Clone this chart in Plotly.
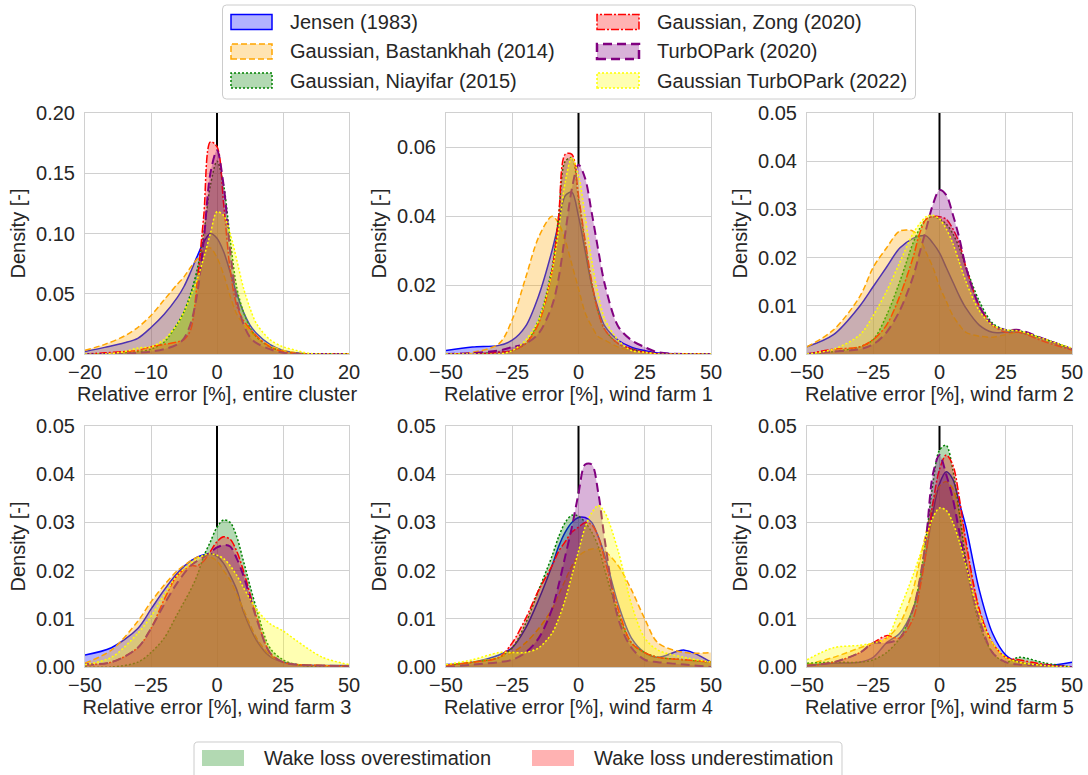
import plotly.graph_objects as go

# ---------------- data ----------------
series_names = ["Jensen (1983)", "Gaussian, Bastankhah (2014)", "Gaussian, Niayifar (2015)",
                "Gaussian, Zong (2020)", "TurbOPark (2020)", "Gaussian TurbOPark (2022)"]

x_cluster = [-20, -17, -14, -12, -10, -8, -6, -5, -4, -3, -2, -1, 0, 1, 2, 3, 4, 5, 6, 8, 10, 12, 14, 20]
x_farm = [-50, -40, -30, -25, -20, -15, -10, -7.5, -5, -2.5, 0, 2.5, 5, 7.5, 10, 15, 20, 25, 30, 40, 50]

# entire cluster
jensen_p1 = [0.002, 0.0055, 0.0093, 0.013, 0.022, 0.033, 0.047, 0.056, 0.068, 0.081, 0.093, 0.100, 0.096, 0.085, 0.068, 0.050, 0.035, 0.024, 0.017, 0.008, 0.003, 0.001, 0.0, 0.0]
bast_p1 = [0.003, 0.008, 0.015, 0.022, 0.032, 0.045, 0.058, 0.064, 0.072, 0.079, 0.086, 0.088, 0.080, 0.066, 0.048, 0.033, 0.025, 0.019, 0.014, 0.007, 0.003, 0.001, 0.0, 0.0]
niay_p1 = [0.0, 0.0, 0.001, 0.002, 0.004, 0.010, 0.025, 0.035, 0.050, 0.070, 0.100, 0.140, 0.160, 0.140, 0.095, 0.055, 0.035, 0.022, 0.014, 0.006, 0.002, 0.0005, 0.0, 0.0]
zong_p1 = [0.0, 0.001, 0.002, 0.003, 0.006, 0.008, 0.010, 0.012, 0.020, 0.060, 0.115, 0.176, 0.172, 0.125, 0.070, 0.040, 0.028, 0.021, 0.015, 0.006, 0.002, 0.0005, 0.0, 0.0]
turbo_p1 = [0.0, 0.0, 0.0005, 0.001, 0.002, 0.004, 0.008, 0.013, 0.025, 0.050, 0.095, 0.150, 0.169, 0.140, 0.085, 0.045, 0.025, 0.014, 0.009, 0.004, 0.001, 0.0, 0.0, 0.0]
gturbo_p1 = [0.0, 0.0, 0.002, 0.005, 0.006, 0.012, 0.025, 0.035, 0.048, 0.062, 0.080, 0.100, 0.118, 0.115, 0.100, 0.078, 0.055, 0.038, 0.025, 0.012, 0.006, 0.003, 0.0005, 0.0]

# wind farm 1
jensen_p2 = [0.001, 0.002, 0.0025, 0.004, 0.008, 0.017, 0.030, 0.038, 0.046, 0.047, 0.040, 0.030, 0.020, 0.013, 0.008, 0.004, 0.002, 0.001, 0.0003, 0.0, 0.0]
bast_p2 = [0.0, 0.0005, 0.003, 0.010, 0.022, 0.034, 0.040, 0.038, 0.033, 0.026, 0.019, 0.012, 0.008, 0.005, 0.004, 0.002, 0.001, 0.0005, 0.0, 0.0, 0.0]
niay_p2 = [0.0, 0.0, 0.0005, 0.001, 0.003, 0.010, 0.025, 0.040, 0.056, 0.057, 0.045, 0.032, 0.020, 0.012, 0.007, 0.003, 0.0015, 0.0005, 0.0, 0.0, 0.0]
zong_p2 = [0.0, 0.0, 0.0005, 0.001, 0.003, 0.009, 0.024, 0.040, 0.058, 0.058, 0.046, 0.033, 0.021, 0.012, 0.007, 0.003, 0.0015, 0.0005, 0.0, 0.0, 0.0]
turbo_p2 = [0.0, 0.0003, 0.001, 0.002, 0.003, 0.006, 0.014, 0.022, 0.035, 0.048, 0.055, 0.051, 0.041, 0.030, 0.020, 0.008, 0.004, 0.002, 0.0005, 0.0, 0.0]
gturbo_p2 = [0.0, 0.0, 0.0, 0.001, 0.004, 0.010, 0.024, 0.036, 0.050, 0.057, 0.052, 0.040, 0.027, 0.017, 0.010, 0.004, 0.001, 0.0005, 0.0, 0.0, 0.0]

# wind farm 2
jensen_p3 = [0.0015, 0.004, 0.010, 0.014, 0.018, 0.022, 0.024, 0.0245, 0.0245, 0.023, 0.021, 0.018, 0.015, 0.012, 0.0095, 0.006, 0.0045, 0.0045, 0.0045, 0.003, 0.001]
bast_p3 = [0.0015, 0.005, 0.012, 0.018, 0.022, 0.0255, 0.0255, 0.024, 0.021, 0.018, 0.014, 0.011, 0.008, 0.006, 0.0045, 0.0037, 0.0035, 0.004, 0.0045, 0.003, 0.001]
niay_p3 = [0.0, 0.0005, 0.0015, 0.003, 0.008, 0.015, 0.023, 0.026, 0.028, 0.0285, 0.028, 0.027, 0.025, 0.022, 0.018, 0.011, 0.0064, 0.005, 0.0048, 0.003, 0.001]
zong_p3 = [0.0, 0.001, 0.0015, 0.003, 0.006, 0.012, 0.020, 0.025, 0.028, 0.0285, 0.0285, 0.028, 0.026, 0.023, 0.018, 0.010, 0.006, 0.0045, 0.0045, 0.0025, 0.0008]
turbo_p3 = [0.0, 0.0005, 0.001, 0.002, 0.0045, 0.009, 0.016, 0.021, 0.026, 0.031, 0.034, 0.033, 0.029, 0.024, 0.018, 0.010, 0.006, 0.005, 0.005, 0.003, 0.001]
gturbo_p3 = [0.0, 0.001, 0.004, 0.008, 0.013, 0.019, 0.025, 0.027, 0.0285, 0.0288, 0.028, 0.026, 0.023, 0.019, 0.015, 0.009, 0.006, 0.005, 0.0048, 0.003, 0.0012]

# wind farm 3
jensen_p4 = [0.0025, 0.004, 0.008, 0.012, 0.016, 0.0195, 0.022, 0.0228, 0.0233, 0.0235, 0.023, 0.0215, 0.019, 0.016, 0.0115, 0.0055, 0.0022, 0.001, 0.0005, 0.0003, 0.0003]
bast_p4 = [0.0008, 0.0035, 0.0095, 0.0135, 0.017, 0.020, 0.022, 0.0228, 0.023, 0.0228, 0.022, 0.020, 0.018, 0.015, 0.012, 0.006, 0.0025, 0.001, 0.0005, 0.0003, 0.0]
niay_p4 = [0.0, 0.0, 0.001, 0.003, 0.006, 0.011, 0.016, 0.019, 0.023, 0.026, 0.029, 0.0305, 0.030, 0.027, 0.022, 0.012, 0.004, 0.0015, 0.0005, 0.0, 0.0]
zong_p4 = [0.0005, 0.001, 0.004, 0.008, 0.014, 0.019, 0.021, 0.021, 0.022, 0.024, 0.026, 0.027, 0.0265, 0.024, 0.020, 0.0105, 0.003, 0.001, 0.0005, 0.0003, 0.0002]
turbo_p4 = [0.0005, 0.001, 0.004, 0.008, 0.013, 0.0175, 0.021, 0.022, 0.0228, 0.0238, 0.0248, 0.0253, 0.025, 0.0225, 0.019, 0.010, 0.003, 0.001, 0.0005, 0.0003, 0.0002]
gturbo_p4 = [0.0005, 0.002, 0.007, 0.0105, 0.015, 0.019, 0.0215, 0.0225, 0.0232, 0.0235, 0.0232, 0.0225, 0.021, 0.019, 0.0165, 0.012, 0.009, 0.0075, 0.0055, 0.002, 0.0005]

# wind farm 4
jensen_p5 = [0.0005, 0.001, 0.0025, 0.004, 0.008, 0.014, 0.021, 0.025, 0.028, 0.030, 0.031, 0.031, 0.030, 0.027, 0.023, 0.013, 0.006, 0.003, 0.002, 0.0035, 0.001]
bast_p5 = [0.0003, 0.001, 0.002, 0.003, 0.005, 0.008, 0.012, 0.015, 0.018, 0.021, 0.023, 0.024, 0.0245, 0.0245, 0.024, 0.021, 0.016, 0.010, 0.005, 0.003, 0.003]
niay_p5 = [0.0003, 0.001, 0.002, 0.004, 0.009, 0.016, 0.023, 0.027, 0.030, 0.0315, 0.0313, 0.030, 0.028, 0.025, 0.020, 0.011, 0.005, 0.003, 0.002, 0.0015, 0.001]
zong_p5 = [0.0003, 0.001, 0.002, 0.005, 0.010, 0.016, 0.021, 0.024, 0.026, 0.028, 0.029, 0.030, 0.0295, 0.027, 0.022, 0.012, 0.005, 0.003, 0.002, 0.0015, 0.001]
turbo_p5 = [0.0, 0.0005, 0.001, 0.0015, 0.003, 0.006, 0.012, 0.017, 0.023, 0.029, 0.036, 0.042, 0.042, 0.036, 0.026, 0.010, 0.004, 0.0015, 0.001, 0.0005, 0.0]
gturbo_p5 = [0.0005, 0.0015, 0.003, 0.003, 0.003, 0.004, 0.007, 0.010, 0.014, 0.019, 0.024, 0.029, 0.032, 0.0335, 0.032, 0.024, 0.013, 0.006, 0.0035, 0.002, 0.001]

# wind farm 5
jensen_p6 = [0.0003, 0.0008, 0.001, 0.002, 0.005, 0.007, 0.012, 0.017, 0.024, 0.032, 0.038, 0.0405, 0.039, 0.034, 0.029, 0.016, 0.007, 0.0025, 0.001, 0.0003, 0.001]
bast_p6 = [0.0005, 0.002, 0.004, 0.005, 0.006, 0.009, 0.016, 0.022, 0.028, 0.034, 0.0375, 0.0385, 0.037, 0.032, 0.025, 0.012, 0.005, 0.002, 0.001, 0.0003, 0.0]
niay_p6 = [0.0008, 0.001, 0.001, 0.0015, 0.003, 0.006, 0.012, 0.018, 0.027, 0.038, 0.045, 0.046, 0.041, 0.032, 0.022, 0.009, 0.003, 0.001, 0.002, 0.0008, 0.0]
zong_p6 = [0.0003, 0.001, 0.003, 0.005, 0.0065, 0.006, 0.010, 0.016, 0.024, 0.034, 0.041, 0.044, 0.042, 0.035, 0.026, 0.012, 0.005, 0.002, 0.0015, 0.0005, 0.0]
turbo_p6 = [0.0003, 0.001, 0.003, 0.005, 0.005, 0.006, 0.012, 0.018, 0.027, 0.040, 0.044, 0.040, 0.035, 0.028, 0.021, 0.010, 0.003, 0.001, 0.0005, 0.0003, 0.0]
gturbo_p6 = [0.0015, 0.004, 0.0045, 0.005, 0.006, 0.012, 0.019, 0.023, 0.027, 0.031, 0.033, 0.0325, 0.030, 0.026, 0.021, 0.011, 0.005, 0.002, 0.001, 0.0003, 0.0]

panel_titles = ["Relative error [%], entire cluster", "Relative error [%], wind farm 1",
                "Relative error [%], wind farm 2", "Relative error [%], wind farm 3",
                "Relative error [%], wind farm 4", "Relative error [%], wind farm 5"]
panel_x = [x_cluster, x_farm, x_farm, x_farm, x_farm, x_farm]
panel_series = [
    [jensen_p1, bast_p1, niay_p1, zong_p1, turbo_p1, gturbo_p1],
    [jensen_p2, bast_p2, niay_p2, zong_p2, turbo_p2, gturbo_p2],
    [jensen_p3, bast_p3, niay_p3, zong_p3, turbo_p3, gturbo_p3],
    [jensen_p4, bast_p4, niay_p4, zong_p4, turbo_p4, gturbo_p4],
    [jensen_p5, bast_p5, niay_p5, zong_p5, turbo_p5, gturbo_p5],
    [jensen_p6, bast_p6, niay_p6, zong_p6, turbo_p6, gturbo_p6],
]
x_ranges = [[-20, 20], [-50, 50], [-50, 50], [-50, 50], [-50, 50], [-50, 50]]
x_dticks = [10, 25, 25, 25, 25, 25]
y_ranges = [[0, 0.20], [0, 0.07], [0, 0.05], [0, 0.05], [0, 0.05], [0, 0.05]]
y_dticks = [0.05, 0.02, 0.01, 0.01, 0.01, 0.01]

bottom_names = ["Wake loss overestimation", "Wake loss underestimation"]

# ---------------- styles ----------------
W, H = 1088, 775
FONT = "Liberation Sans, Arial, sans-serif"
TXT = "#262626"
GRID = "#d0d0d0"
rgb = [(0, 0, 255), (255, 165, 0), (0, 128, 0), (255, 0, 0), (128, 0, 128), (255, 255, 0)]
dashes = ["solid", "6px,3px", "2px,2px", "8px,2px,2px,2px", "9px,5px", "2px,2px"]
widths = [1.5, 1.5, 1.5, 1.5, 2.0, 1.5]
legend_widths = [1.5, 1.5, 1.5, 1.5, 2.5, 1.5]
bottom_rgb = [(0, 128, 0), (255, 0, 0)]

def line_col(c):
    return "rgb(%d,%d,%d)" % c

def fill_col(c, a=0.3):
    return "rgba(%d,%d,%d,%.2f)" % (c[0], c[1], c[2], a)

# plot-area pixel boxes
col_px = [(85, 349), (446, 711), (807, 1072)]
row_px = [(113, 354), (426, 667)]

fig = go.Figure()
layout_axes = {}
for i in range(6):
    r, c = divmod(i, 3)
    xs = "x" if i == 0 else "x%d" % (i + 1)
    ys = "y" if i == 0 else "y%d" % (i + 1)
    xname = "xaxis" if i == 0 else "xaxis%d" % (i + 1)
    yname = "yaxis" if i == 0 else "yaxis%d" % (i + 1)
    xv = panel_x[i]
    # reference line at zero error, from the highest curve at x=0 to the top
    i0 = xv.index(0)
    ytop0 = max(s[i0] for s in panel_series[i])
    fig.add_trace(go.Scatter(x=[0, 0], y=[ytop0, y_ranges[i][1]], mode="lines",
                             line=dict(color="black", width=2), xaxis=xs, yaxis=ys,
                             showlegend=False, hoverinfo="skip"))
    for k, s in enumerate(panel_series[i]):
        fig.add_trace(go.Scatter(
            x=xv, y=s, mode="lines", name=series_names[k],
            line=dict(color=line_col(rgb[k]), width=widths[k], dash=dashes[k],
                      shape="spline", smoothing=0.9),
            fill="tozeroy", fillcolor=fill_col(rgb[k]),
            xaxis=xs, yaxis=ys, showlegend=False))
    L, R = col_px[c]
    T, B = row_px[r]
    layout_axes[xname] = dict(
        domain=[L / W, R / W], anchor=ys, range=x_ranges[i], dtick=x_dticks[i], tick0=0,
        showgrid=True, gridcolor=GRID, gridwidth=1, zeroline=False,
        showline=True, linecolor=GRID, linewidth=1, mirror=True,
        ticks="", tickfont=dict(size=20, color=TXT, family=FONT),
        title=dict(text=panel_titles[i], font=dict(size=20, color=TXT, family=FONT), standoff=1),
        automargin=False, fixedrange=True)
    layout_axes[yname] = dict(
        domain=[1 - B / H, 1 - T / H], anchor=xs, range=y_ranges[i], dtick=y_dticks[i], tick0=0,
        tickformat=".2f",
        showgrid=True, gridcolor=GRID, gridwidth=1, zeroline=False,
        showline=True, linecolor=GRID, linewidth=1, mirror=True,
        ticks="outside", ticklen=5, tickcolor="rgba(0,0,0,0)",
        tickfont=dict(size=20, color=TXT, family=FONT),
        title=dict(text="Density [-]", font=dict(size=20, color=TXT, family=FONT), standoff=5),
        automargin=False, fixedrange=True)

# ---------------- legends (drawn as patches + text in paper space) ----------------
def px(xp):
    return xp / W

def py(yp):
    return 1 - yp / H

def rounded_box(x0, y0, x1, y1, r=4):
    rx, ry = r / W, r / H
    X0, X1 = px(x0), px(x1)
    Y0, Y1 = py(y1), py(y0)  # Y0 bottom, Y1 top in paper coords
    return ("M %f,%f L %f,%f Q %f,%f %f,%f L %f,%f Q %f,%f %f,%f L %f,%f Q %f,%f %f,%f "
            "L %f,%f Q %f,%f %f,%f Z") % (
        X0 + rx, Y1, X1 - rx, Y1, X1, Y1, X1, Y1 - ry,
        X1, Y0 + ry, X1, Y0, X1 - rx, Y0,
        X0 + rx, Y0, X0, Y0, X0, Y0 + ry,
        X0, Y1 - ry, X0, Y1, X0 + rx, Y1)

shapes = []
annotations = []
shapes.append(dict(type="path", xref="paper", yref="paper", path=rounded_box(222.5, 5, 915.5, 99),
                   line=dict(color="#cccccc", width=1), fillcolor="rgba(255,255,255,0.8)", layer="above"))
patch_cols = [(231, 272, 288), (597, 639, 655)]
row_centers = [22, 51.5, 80.5]
for k, name in enumerate(series_names):
    cc, rr = divmod(k, 3)
    x0, x1, xt = patch_cols[cc]
    yc = row_centers[rr]
    shapes.append(dict(type="rect", xref="paper", yref="paper",
                       x0=px(x0), x1=px(x1), y0=py(yc + 7.5), y1=py(yc - 7.5),
                       line=dict(color=line_col(rgb[k]), width=legend_widths[k], dash=dashes[k]),
                       fillcolor=fill_col(rgb[k]), layer="above"))
    annotations.append(dict(xref="paper", yref="paper", x=px(xt), y=py(yc), text=name,
                            showarrow=False, xanchor="left", yanchor="middle",
                            font=dict(size=20, color=TXT, family=FONT)))

shapes.append(dict(type="path", xref="paper", yref="paper", path=rounded_box(194, 742, 842, 800),
                   line=dict(color="#cccccc", width=1), fillcolor="rgba(255,255,255,0.8)", layer="above"))
bottom_cols = [(202, 244, 262), (532, 574, 592)]
for k, name in enumerate(bottom_names):
    x0, x1, xt = bottom_cols[k]
    yc = 758
    shapes.append(dict(type="rect", xref="paper", yref="paper",
                       x0=px(x0), x1=px(x1), y0=py(yc + 8), y1=py(yc - 8),
                       line=dict(width=0), fillcolor=fill_col(bottom_rgb[k]), layer="above"))
    annotations.append(dict(xref="paper", yref="paper", x=px(xt), y=py(yc), text=name,
                            showarrow=False, xanchor="left", yanchor="middle",
                            font=dict(size=20, color=TXT, family=FONT)))

fig.update_layout(
    width=W, height=H, margin=dict(l=0, r=0, t=0, b=0),
    paper_bgcolor="white", plot_bgcolor="white",
    font=dict(family=FONT, size=20, color=TXT),
    showlegend=False, shapes=shapes, annotations=annotations,
    **layout_axes)

fig.write_html("out.html", config={"displayModeBar": False})
